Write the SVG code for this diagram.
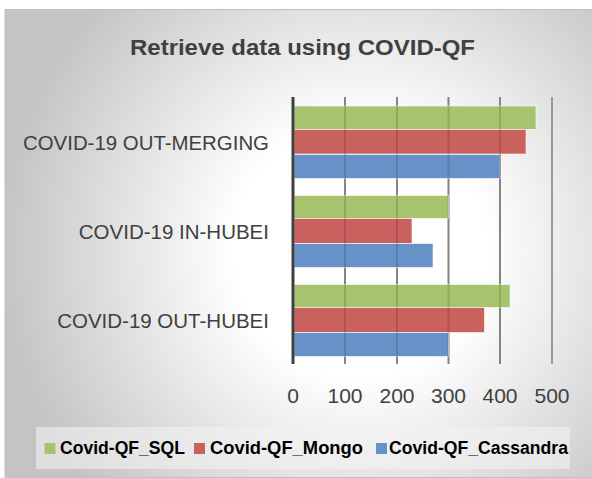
<svg xmlns="http://www.w3.org/2000/svg" width="592" height="478" viewBox="0 0 592 478">
<defs>
<radialGradient id="bg" gradientUnits="userSpaceOnUse" cx="360" cy="250" r="360">
<stop offset="0" stop-color="#ffffff"/>
<stop offset="0.35" stop-color="#ffffff"/>
<stop offset="1" stop-color="#c4c4c4"/>
</radialGradient>
<style>
.lbl{font-family:"Liberation Sans",Arial,sans-serif;fill:#404040}
.cat{font-size:20.5px;text-anchor:end}
.tick{font-size:21px;text-anchor:middle}
.title{font-size:22.5px;font-weight:bold;text-anchor:middle}
.leg{font-family:"Liberation Sans",Arial,sans-serif;font-size:17.5px;font-weight:bold;fill:#000}
.grid{stroke:#999;stroke-width:2}
.gridov{stroke:#000;stroke-opacity:0.13;stroke-width:2}
.bar{stroke:#fff;stroke-opacity:0.6;stroke-width:1}
.sql{fill:#a6c36e}
.mongo{fill:#c9615f}
.cass{fill:#6692c7}
</style>
</defs>
<rect x="0" y="0" width="592" height="478" fill="#ffffff"/>
<rect id="chart-bg" x="5" y="9.5" width="592" height="468" fill="url(#bg)" stroke="#c0c0c0" stroke-width="1"/>
<text id="title" class="lbl title" x="302.5" y="55" textLength="345" lengthAdjust="spacingAndGlyphs">Retrieve data using COVID-QF</text>
<g id="gridlines">
<line class="grid" x1="345" y1="97" x2="345" y2="364"/>
<line class="grid" x1="397" y1="97" x2="397" y2="364"/>
<line class="grid" x1="448.5" y1="97" x2="448.5" y2="364"/>
<line class="grid" x1="500" y1="97" x2="500" y2="364"/>
<line class="grid" x1="552" y1="97" x2="552" y2="364"/>
</g>
<g id="out-merging">
<rect class="bar sql" x="294" y="106" width="242" height="23.5"/>
<rect class="bar mongo" x="294" y="129.5" width="232" height="24.5"/>
<rect class="bar cass" x="294" y="154.5" width="206" height="24"/>
</g>
<g id="in-hubei">
<rect class="bar sql" x="294" y="195.5" width="154.5" height="23"/>
<rect class="bar mongo" x="294" y="218.5" width="118" height="25"/>
<rect class="bar cass" x="294" y="243.5" width="139" height="24"/>
</g>
<g id="out-hubei">
<rect class="bar sql" x="294" y="284.5" width="216" height="23"/>
<rect class="bar mongo" x="294" y="307.5" width="190.5" height="25"/>
<rect class="bar cass" x="294" y="332.5" width="154.5" height="24"/>
</g>
<g id="grid-overlay">
<line class="gridov" x1="345" y1="97" x2="345" y2="364"/>
<line class="gridov" x1="397" y1="97" x2="397" y2="364"/>
<line class="gridov" x1="448.5" y1="97" x2="448.5" y2="364"/>
<line class="gridov" x1="500" y1="97" x2="500" y2="364"/>
</g>
<line id="axis" x1="293" y1="97" x2="293" y2="364" stroke="#404040" stroke-width="3"/>
<g id="categories">
<text class="lbl cat" x="269" y="150" textLength="246" lengthAdjust="spacingAndGlyphs">COVID-19 OUT-MERGING</text>
<text class="lbl cat" x="269" y="239">COVID-19 IN-HUBEI</text>
<text class="lbl cat" x="269" y="327.5">COVID-19 OUT-HUBEI</text>
</g>
<g id="ticks">
<text class="lbl tick" x="293" y="403">0</text>
<text class="lbl tick" x="345" y="403">100</text>
<text class="lbl tick" x="397" y="403">200</text>
<text class="lbl tick" x="448.5" y="403">300</text>
<text class="lbl tick" x="500" y="403">400</text>
<text class="lbl tick" x="552" y="403">500</text>
</g>
<g id="legend">
<rect x="36" y="427" width="534" height="42" fill="#f2f2f2" fill-opacity="0.6"/>
<rect class="sql" x="44.5" y="443" width="11" height="11"/>
<text class="leg" x="60" y="454" textLength="125" lengthAdjust="spacingAndGlyphs">Covid-QF_SQL</text>
<rect class="mongo" x="194" y="443" width="11" height="11"/>
<text class="leg" x="210" y="454" textLength="153" lengthAdjust="spacingAndGlyphs">Covid-QF_Mongo</text>
<rect class="cass" x="376" y="443" width="11" height="11"/>
<text class="leg" x="389" y="454" textLength="179" lengthAdjust="spacingAndGlyphs">Covid-QF_Cassandra</text>
</g>
</svg>
